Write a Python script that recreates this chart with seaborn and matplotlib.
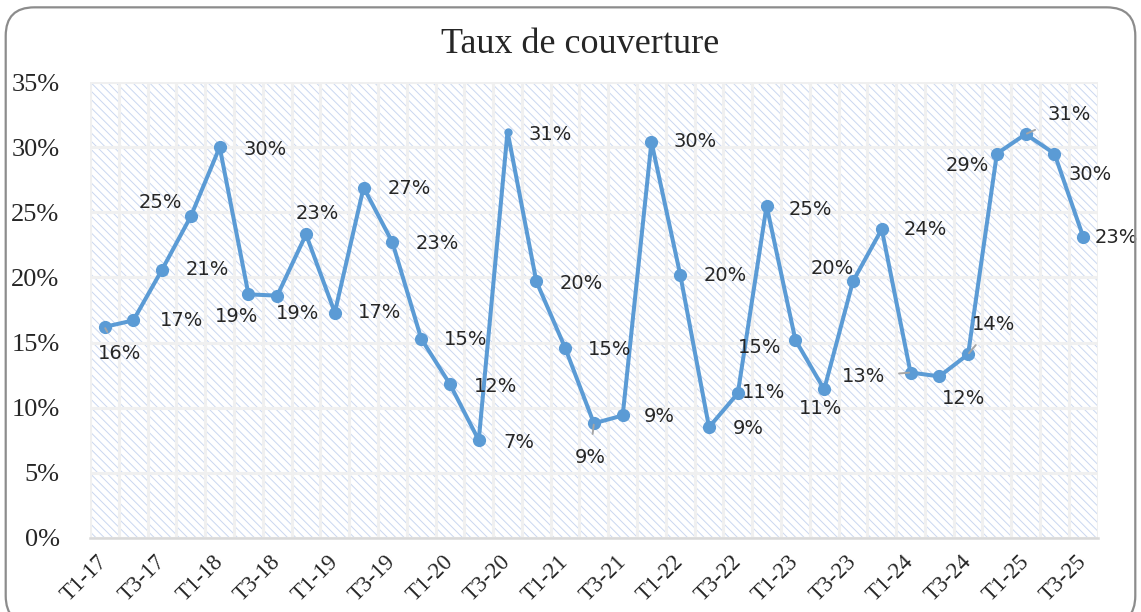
import pandas as pd
import numpy as np
import seaborn as sns
import matplotlib.pyplot as plt
from matplotlib.patches import Rectangle, FancyBboxPatch
from matplotlib.ticker import PercentFormatter, MultipleLocator, FixedLocator

# quarters T1-17 ... T3-25
trimestres = ['T1-17', 'T2-17', 'T3-17', 'T4-17', 'T1-18', 'T2-18', 'T3-18', 'T4-18',
              'T1-19', 'T2-19', 'T3-19', 'T4-19', 'T1-20', 'T2-20', 'T3-20', 'T4-20',
              'T1-21', 'T2-21', 'T3-21', 'T4-21', 'T1-22', 'T2-22', 'T3-22', 'T4-22',
              'T1-23', 'T2-23', 'T3-23', 'T4-23', 'T1-24', 'T2-24', 'T3-24', 'T4-24',
              'T1-25', 'T2-25', 'T3-25']
taux = [16.2, 16.7, 20.6, 24.7, 30.0, 18.7, 18.6, 23.3, 17.3, 26.9, 22.7, 15.3,
        11.8, 7.5, 31.2, 19.7, 14.6, 8.8, 9.4, 30.4, 20.2, 8.5, 11.1, 25.5,
        15.2, 11.4, 19.7, 23.7, 12.7, 12.4, 14.1, 29.5, 31.0, 29.5, 23.1]
etiquettes = ['16%', '17%', '21%', '25%', '30%', '19%', '19%', '23%', '17%', '27%', '23%', '15%',
              '12%', '7%', '31%', '20%', '15%', '9%', '9%', '30%', '20%', '9%', '11%', '25%',
              '15%', '11%', '20%', '24%', '13%', '12%', '14%', '29%', '31%', '30%', '23%']

# label offsets in pixels (dx right, dy down) as placed in the original
decal = [(15, 27), (48, 0), (45, 0), (-31, -14), (45, 2), (-12, 22), (20, 18), (11, -21),
         (45, 0), (46, 1), (45, 1), (44, 1), (46, 2), (40, 2), (43, 3), (45, 2), (45, 2),
         (-4, 34), (37, 1), (44, 0), (45, 1), (39, 1), (26, -1), (44, 4), (-36, 8),
         (-4, 19), (-21, -13), (44, 0), (-47, 4), (24, 22), (25, -30), (-30, 12),
         (44, -20), (36, 21), (33, 0)]
avec_trait = [0, 17, 28, 30, 32]

df = pd.DataFrame({'trimestre': trimestres, 'taux': taux})
bleu = '#5b9bd5'

fig = plt.figure(figsize=(11.41, 6.12), dpi=100)
ax = fig.add_axes([0.079, 0.121, 0.883, 0.745])

sns.lineplot(data=df, x='trimestre', y='taux', ax=ax, color=bleu, linewidth=2.9,
             marker='o', markersize=9.5, markeredgewidth=0, sort=False, zorder=3)
# the T3-20 point has a small marker in the original
ax.plot(14, taux[14], 'o', color=bleu, markersize=5, zorder=4)
ax.lines[0].set_markevery([i for i in range(len(taux)) if i != 14])

for i, (v, lab) in enumerate(zip(taux, etiquettes)):
    dx, dy = decal[i]
    if i in avec_trait:
        ax.annotate(lab, (i, v), xytext=(dx, -dy), textcoords='offset pixels',
                    ha='center', va='center', fontsize=14, color='#262626',
                    family='DejaVu Sans', zorder=5,
                    arrowprops=dict(arrowstyle='-', color='#a6a6a6', lw=1.4,
                                    shrinkA=8, shrinkB=1))
    else:
        ax.annotate(lab, (i, v), xytext=(dx, -dy), textcoords='offset pixels',
                    ha='center', va='center', fontsize=14, color='#262626',
                    family='DejaVu Sans', zorder=5)

ax.set_xlim(-0.5, len(taux) - 0.5)
ax.set_ylim(0, 35)

# hatched plot area
ax.set_facecolor('white')
plt.rcParams['hatch.linewidth'] = 0.7
ax.add_patch(Rectangle((0, 0), 1, 1, transform=ax.transAxes, facecolor='white',
                       edgecolor='#cad7f0', hatch='\\\\\\\\', lw=0, zorder=0.1))

ax.yaxis.set_major_locator(MultipleLocator(5))
ax.yaxis.set_major_formatter(PercentFormatter(decimals=0))
ax.xaxis.set_major_locator(FixedLocator(range(0, len(taux), 2)))
ax.set_xticklabels(trimestres[::2])
ax.xaxis.set_minor_locator(FixedLocator(np.arange(-0.5, len(taux), 1)))
ax.grid(axis='y', which='major', color='#f0f0f0', lw=2.2, zorder=0.5)
ax.grid(axis='x', which='minor', color='#f0f0f0', lw=2.2, zorder=0.5)
ax.set_axisbelow(True)

for s in ['top', 'right', 'left']:
    ax.spines[s].set_visible(False)
ax.spines['bottom'].set_color('#d9d9d9')
ax.spines['bottom'].set_linewidth(1.8)

ax.tick_params(axis='both', which='both', length=0)
ax.tick_params(axis='y', pad=22)
ax.tick_params(axis='x', pad=15)
for t in ax.get_yticklabels():
    t.set_family('Liberation Serif')
    t.set_fontsize(19)
    t.set_color('#262626')
for t in ax.get_xticklabels():
    t.set_family('Liberation Serif')
    t.set_fontsize(16.5)
    t.set_color('#262626')
    t.set_rotation(45)
    t.set_ha('right')
    t.set_va('center')
    t.set_rotation_mode('anchor')

ax.set_xlabel('')
ax.set_ylabel('')
fig.text(0.508, 0.928, 'Taux de couverture', ha='center', va='center',
         family='Liberation Serif', fontsize=26, color='#262626')

# rounded frame around the chart
fig.patches.append(FancyBboxPatch((0.005, -0.02), 0.99, 1.008,
                                  boxstyle='round,pad=0,rounding_size=0.025',
                                  transform=fig.transFigure, facecolor='none',
                                  edgecolor='#8c8c8c', lw=1.6, mutation_aspect=1.86))

fig.savefig('out.png', dpi=100)
